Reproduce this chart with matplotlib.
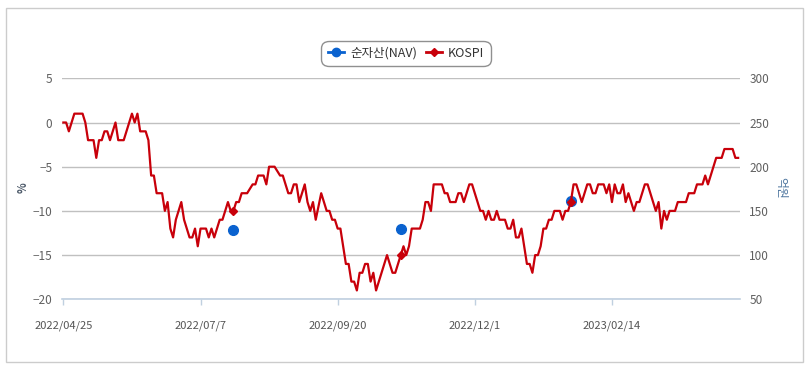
import matplotlib
matplotlib.use('Agg')
import matplotlib.pyplot as plt
from matplotlib.lines import Line2D
from matplotlib.patches import Rectangle

plt.rcParams['font.family'] = ['Noto Sans CJK KR', 'DejaVu Sans']

# trading-day index along the category axis and KOSPI return (%)
kospi_idx = [0, 1, 2, 4, 7, 8, 9, 11, 12, 13, 14, 15, 16, 17, 19, 20, 22, 25, 26, 27,
             28, 30, 31, 32, 33, 34, 36, 37, 38, 39, 40, 41, 43, 44, 46, 47, 48, 49, 50, 52,
             53, 54, 55, 57, 58, 60, 61, 62, 63, 64, 65, 67, 69, 70, 71, 73, 74, 75, 77, 79,
             80, 82, 83, 84, 85, 86, 88, 89, 90, 91, 92, 94, 96, 97, 98, 99, 100, 101, 103, 104,
             105, 106, 107, 108, 109, 110, 111, 112, 113, 114, 116, 118, 120, 121, 122, 123, 124, 125, 126, 127,
             130, 131, 132, 133, 134, 135, 138, 139, 140, 141, 143, 144, 145, 146, 148, 149, 152, 153, 154, 155,
             156, 157, 158, 159, 161, 162, 163, 164, 165, 166, 167, 169, 170, 171, 172, 173, 174, 175, 176, 177,
             178, 179, 181, 182, 183, 184, 185, 186, 187, 189, 191, 192, 193, 194, 195, 197, 198, 199, 200, 201,
             202, 203, 204, 205, 206, 208, 209, 210, 212, 213, 216, 217, 218, 219, 220, 221, 223, 224, 227, 228,
             230, 231, 233, 234, 235, 238, 240, 241, 244, 245, 246]
kospi_val = [0, 0, -1, 1, 1, 0, -2, -2, -4, -2, -2, -1, -1, -2, 0, -2, -2, 1, 0, 1,
             -1, -1, -2, -6, -6, -8, -8, -10, -9, -12, -13, -11, -9, -11, -13, -13, -12, -14, -12, -12,
             -13, -12, -13, -11, -11, -9, -10, -10, -9, -9, -8, -8, -7, -7, -6, -6, -7, -5, -5, -6,
             -6, -8, -8, -7, -7, -9, -7, -9, -10, -9, -11, -8, -10, -10, -11, -11, -12, -12, -16, -16,
             -18, -18, -19, -17, -17, -16, -16, -18, -17, -19, -17, -15, -17, -17, -16, -15, -14, -15, -14, -12,
             -12, -11, -9, -9, -10, -7, -7, -8, -8, -9, -9, -8, -8, -9, -7, -7, -10, -10, -11, -10,
             -11, -11, -10, -11, -11, -12, -12, -11, -13, -13, -12, -16, -16, -17, -15, -15, -14, -12, -12, -11,
             -11, -10, -10, -11, -10, -10, -9, -7, -7, -9, -7, -7, -8, -8, -7, -7, -8, -7, -9, -7,
             -8, -8, -7, -9, -8, -10, -9, -9, -7, -7, -10, -9, -12, -10, -11, -10, -10, -9, -9, -8,
             -8, -7, -7, -6, -7, -4, -4, -3, -3, -4, -4]

# days with a NAV value
nav_idx = [62, 123, 185]
nav_val = [-12.2, -12.0, -8.9]

tick_idx = [0, 50, 100, 150, 200]
tick_labels = ['2022/04/25', '2022/07/7', '2022/09/20', '2022/12/1', '2023/02/14']
left_ticks = [-20, -15, -10, -5, 0, 5]
right_ticks = [50, 100, 150, 200, 250, 300]

W, H = 811, 368
fig = plt.figure(figsize=(W / 100, H / 100), dpi=100)
fig.patches.append(Rectangle((6 / W, 1 - 362 / H), 797 / W, 354 / H, transform=fig.transFigure,
                             fill=False, edgecolor='#cccccc', linewidth=1))

x0, x1, ytop, ybot = 62, 739.5, 78.3, 299.3
ax = fig.add_axes([x0 / W, 1 - ybot / H, (x1 - x0) / W, (ybot - ytop) / H])

nav_color = '#0a62cf'
kospi_color = '#c8000a'

ax.plot(nav_idx, nav_val, linestyle='none', marker='o', markersize=7,
        color=nav_color, zorder=3)
ax.plot(kospi_idx, kospi_val, color=kospi_color, linewidth=1.6, zorder=4)
mk = [kospi_val[kospi_idx.index(i)] for i in nav_idx]
ax.plot(nav_idx, mk, linestyle='none', marker='D', markersize=4.3, color=kospi_color, zorder=5)

ax.set_xlim(-0.5, 246.5)
ax.set_ylim(-20, 5)
ax.set_yticks(left_ticks)
ax.set_xticks(tick_idx)
ax.set_xticklabels(tick_labels)
ax.grid(axis='y', color='#c0c0c0', linewidth=1)
ax.set_axisbelow(True)
for s in ['top', 'left', 'right']:
    ax.spines[s].set_visible(False)
ax.spines['bottom'].set_color('#c0d0e0')
ax.spines['bottom'].set_linewidth(1.2)
ax.spines['bottom'].set_zorder(2)
ax.tick_params(axis='x', length=4.5, width=1, color='#c0d0e0', pad=11,
               labelsize=8, labelcolor='#555555')
ax.tick_params(axis='y', length=0, pad=7, labelsize=8.5, labelcolor='#606060')

ax2 = ax.twinx()
ax2.set_ylim(50, 300)
ax2.set_yticks(right_ticks)
for s in ax2.spines.values():
    s.set_visible(False)
ax2.tick_params(axis='y', length=0, pad=7, labelsize=8.5, labelcolor='#606060')

fig.text(23.5 / W, 1 - 188 / H, '%', rotation=90, ha='center', va='center',
         fontsize=8, color='#4d5a6a', fontweight='bold')
fig.text(781 / W, 1 - 188 / H, '억원', rotation=-90, ha='center', va='center',
         fontsize=8.5, color='#4d759e')

handles = [Line2D([], [], color=nav_color, linewidth=2, marker='o', markersize=6),
           Line2D([], [], color=kospi_color, linewidth=2, marker='D', markersize=4.5)]
leg = fig.legend(handles, ['순자산(NAV)', 'KOSPI'], loc='center', ncol=2,
                 bbox_to_anchor=(406 / W, 1 - 53.3 / H), fontsize=9,
                 handlelength=1.3, handletextpad=0.5, columnspacing=0.7,
                 borderpad=0.5, frameon=True, fancybox=True, framealpha=1,
                 edgecolor='#909090')
leg.get_frame().set_linewidth(1)
leg.get_frame().set_boxstyle('round', pad=0, rounding_size=0.6)
for t in leg.get_texts():
    t.set_color('#333333')

fig.savefig('out.png', dpi=100)
